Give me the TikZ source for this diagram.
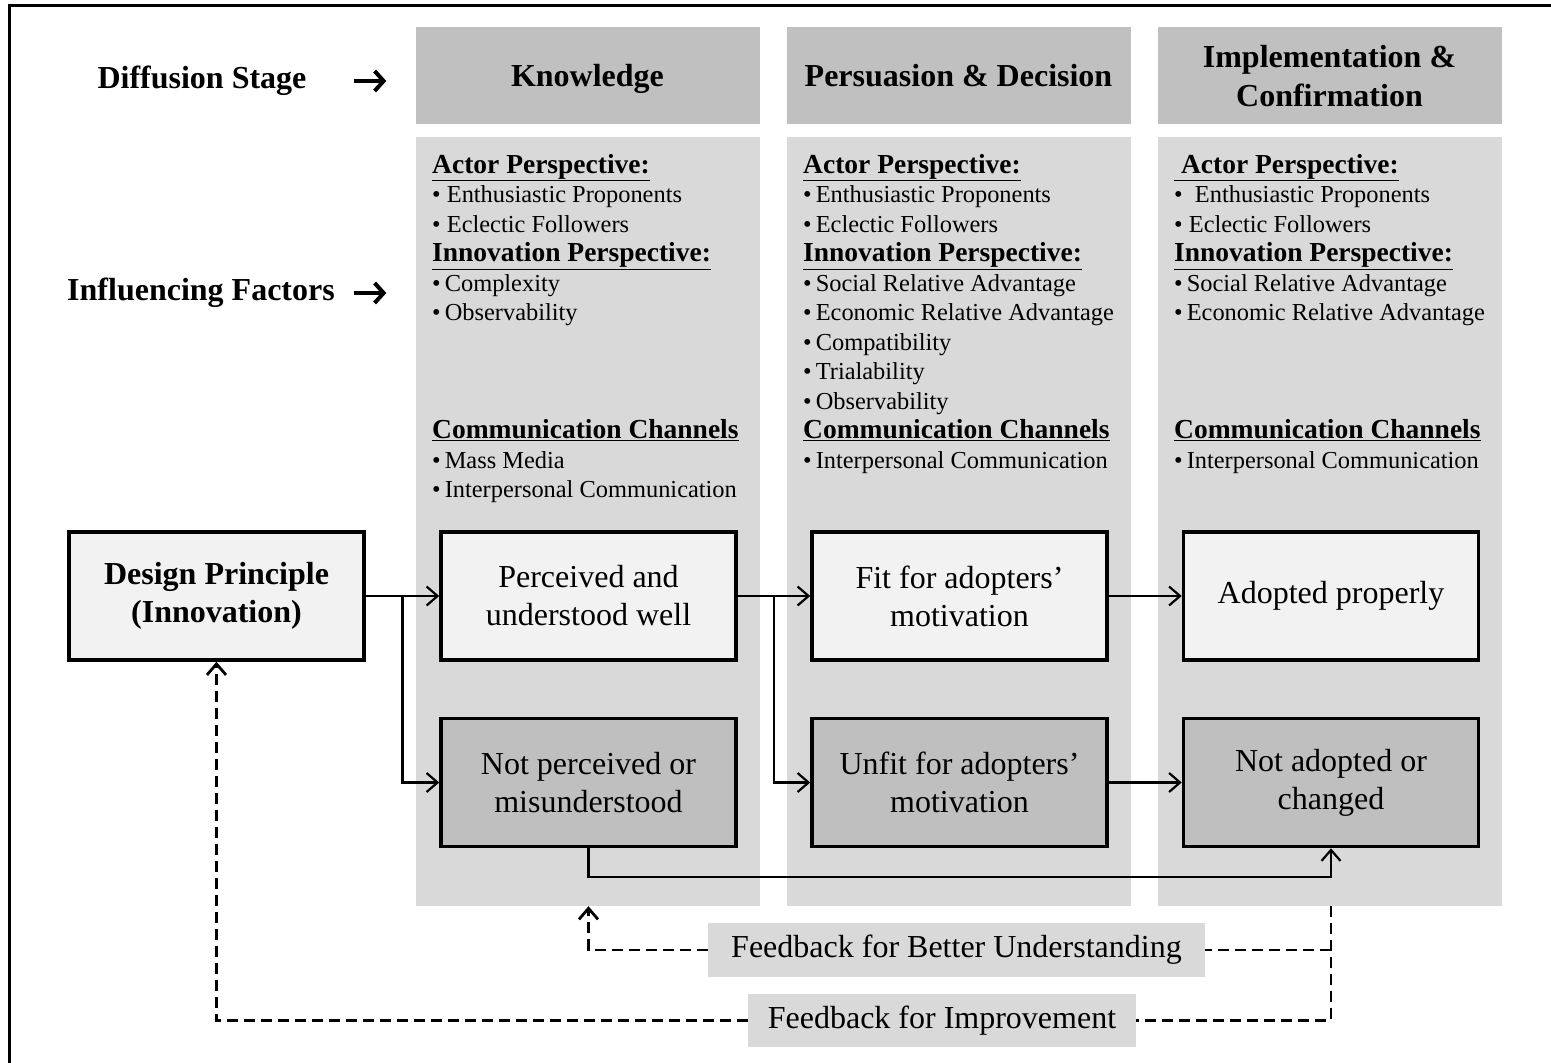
\documentclass[tikz,border=0pt]{standalone}
\usepackage{fontspec}
\setmainfont{Liberation Serif}
\usetikzlibrary{arrows.meta,calc}
\definecolor{hdgray}{RGB}{192,192,192}
\definecolor{bodygray}{RGB}{217,217,217}
\definecolor{lightbox}{RGB}{242,242,242}
\definecolor{darkbox}{RGB}{191,191,191}
\newcommand{\hd}[1]{{\fontsize{27.5}{29}\selectfont\underline{\textbf{#1}}}}
\begin{document}
\begin{tikzpicture}[x=1pt,y=-1pt,
	hdr/.style={fill=hdgray,minimum width=344pt,minimum height=97pt,align=center,inner sep=0pt,text depth=0pt,font=\fontsize{32}{39}\selectfont\bfseries},
	colbody/.style={fill=bodygray,minimum width=344pt,minimum height=769pt,inner sep=0pt},
	item/.style={anchor=base west,inner sep=0pt,font=\fontsize{24.4}{29}\selectfont},
	side/.style={inner sep=0pt,font=\fontsize{32}{38}\selectfont\bfseries},
	stagebox/.style={draw,line width=3.5pt,minimum width=295pt,minimum height=128pt,align=center,font=\fontsize{32}{38}\selectfont},
	arr/.style={line width=2.2pt,-{Straight Barb[length=11pt,width=19pt]}},
	bigarr/.style={line width=4pt,-{Straight Barb[length=9pt,width=20pt]}},
	fbk/.style={line width=2.8pt,dash pattern=on 11pt off 6pt},
	fblabel/.style={fill=bodygray,inner sep=0pt,font=\fontsize{32}{38}\selectfont}]
	\useasboundingbox (0,0) rectangle (1551,1063);
	\draw[line width=3pt] (9.5,1100) |- (1600,5.5);
	\node[hdr] (kh) at (587.5,75.5) {Knowledge};
	\node[hdr] (ph) at (958.5,75.5) {Persuasion \& Decision};
	\node[hdr] (ih) at (1329.5,75.5) {Implementation \&\\Confirmation};
	\node[colbody] (kb) at (587.5,521.5) {};
	\node[colbody] (pb) at (958.5,521.5) {};
	\node[colbody] (ib) at (1329.5,521.5) {};
	\node[side] (ds) at (202,81) {Diffusion Stage};
	\node[side] (if) at (201,293) {Influencing Factors};
	\draw[bigarr,shorten <=47pt,shorten >=29pt] (ds.east) -- (ds.east -| kh.west);
	\draw[bigarr,shorten <=19pt,shorten >=29pt] (if.east) -- (if.east -| kb.west);
	\foreach \t [count=\i] in {\hd{Actor Perspective:},\textbullet\ Enthusiastic Proponents,\textbullet\ Eclectic Followers,
		\hd{Innovation Perspective:},\textbullet\,Complexity,\textbullet\,Observability,{},{},{},
		\hd{Communication Channels},\textbullet\,Mass Media,\textbullet\,Interpersonal Communication}
		\node[item] (k\i) at (432,{173+29.5*(\i-1)}) {\t};
	\foreach \t [count=\i] in {\hd{Actor Perspective:},\textbullet\,Enthusiastic Proponents,\textbullet\,Eclectic Followers,
		\hd{Innovation Perspective:},\textbullet\,Social Relative Advantage,\textbullet\,Economic Relative Advantage,
		\textbullet\,Compatibility,\textbullet\,Trialability,\textbullet\,Observability,
		\hd{Communication Channels},\textbullet\,Interpersonal Communication}
		\node[item] (p\i) at (803,{173+29.5*(\i-1)}) {\t};
	\foreach \t [count=\i] in {\hd{~Actor Perspective:},\textbullet~~Enthusiastic Proponents,\textbullet~Eclectic Followers,
		\hd{Innovation Perspective:},\textbullet\,Social Relative Advantage,\textbullet\,Economic Relative Advantage,{},{},{},
		\hd{Communication Channels},\textbullet\,Interpersonal Communication}
		\node[item] (c\i) at (1174,{173+29.5*(\i-1)}) {\t};
	\node[stagebox,fill=lightbox,font=\fontsize{32}{38}\selectfont\bfseries] (dp) at (216.5,596) {Design Principle\\(Innovation)};
	\node[stagebox,fill=lightbox] (pu) at (588.5,596) {Perceived and\\understood well};
	\node[stagebox,fill=darkbox] (np) at (588.5,782.5) {Not perceived or\\misunderstood};
	\node[stagebox,fill=lightbox] (fa) at (959.5,596) {Fit for adopters'\\motivation};
	\node[stagebox,fill=darkbox] (ua) at (959.5,782.5) {Unfit for adopters'\\motivation};
	\node[stagebox,fill=lightbox] (ap) at (1331,596) {Adopted properly};
	\node[stagebox,fill=darkbox] (na) at (1331,782.5) {Not adopted or\\changed};
	\coordinate (s1) at ($(dp.east)!0.5!(pu.west)$);
	\coordinate (s2) at ($(pu.east)!0.5!(fa.west)$);
	\draw[arr] (dp) -- (pu);
	\draw[arr] (s1) |- (np);
	\draw[arr] (pu) -- (fa);
	\draw[arr] (s2) |- (ua);
	\draw[arr] (fa) -- (ap);
	\draw[arr] (ua) -- (na);
	\draw[arr] (np.south) -- ++(0,29) -| (na.south);
	\node[fblabel,minimum width=497pt,minimum height=54pt] (fu) at (956.5,950) {Feedback for Better Understanding};
	\node[fblabel,minimum width=388pt,minimum height=53pt] (fi) at (942,1020.5) {Feedback for Improvement};
	\draw[fbk] (ib.south -| na) |- (fi);
	\draw[fbk] (na |- fu) -- (fu);
	\draw[arr,fbk] (fu) -| (np |- kb.south);
	\draw[arr,fbk] (fi) -| (dp);
\end{tikzpicture}
\end{document}
